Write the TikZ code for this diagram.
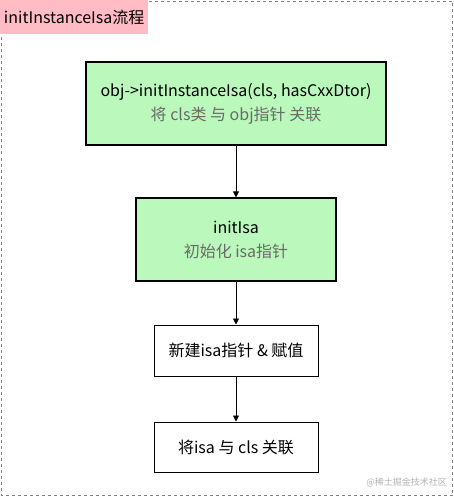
\documentclass[tikz,border=0pt]{standalone}
\usepackage{fontspec}
\setmainfont{Noto Sans CJK SC}
\usetikzlibrary{arrows.meta}
\begin{document}
\begin{tikzpicture}[x=1pt,y=-1pt,
  every node/.style={font=\fontsize{16}{24}\selectfont, inner sep=0pt},
  greenbox/.style={draw=black, line width=1.1pt, fill=boxgreen, align=center},
  plainbox/.style={draw=black, line width=1pt, fill=white, align=center},
  conn/.style={draw=black, line width=0.9pt, -{Triangle[length=6pt,width=6pt]}},
  sub/.style={text=subgray}]
\definecolor{boxgreen}{HTML}{BBF8BB}
\definecolor{subgray}{HTML}{6A6A6A}
\definecolor{titlepink}{HTML}{FFBCC4}
\definecolor{framegray}{HTML}{808080}
\useasboundingbox (0,0) rectangle (454,497);
\draw[framegray, line width=1pt, dash pattern=on 3pt off 3pt] (1.5,1.5) rectangle (452.5,495.5);
\node[fill=titlepink, minimum width=148pt, minimum height=34pt, anchor=north west] (title) at (0,0) {initInstanceIsa流程};
\node[greenbox, minimum width=300pt, minimum height=83pt] (b1) at (236,103.5)
  {obj->initInstanceIsa(cls, hasCxxDtor)\\ \textcolor{subgray}{将 cls类 与 obj指针 关联}};
\node[greenbox, minimum width=200pt, minimum height=83pt] (b2) at (236,239.5)
  {initIsa\\ \textcolor{subgray}{初始化 isa指针}};
\node[plainbox, minimum width=164pt, minimum height=51pt] (b3) at (236,350.5)
  {新建isa指针 \& 赋值};
\node[plainbox, minimum width=164pt, minimum height=50pt] (b4) at (236,447)
  {将isa 与 cls 关联};
\draw[conn] (b1) -- (b2);
\draw[conn] (b2) -- (b3);
\draw[conn] (b3) -- (b4);
\node[font=\fontsize{9}{11}\selectfont, text=black!30, anchor=east] (wm) at (447,482) {@稀土掘金技术社区};
\end{tikzpicture}
\end{document}
